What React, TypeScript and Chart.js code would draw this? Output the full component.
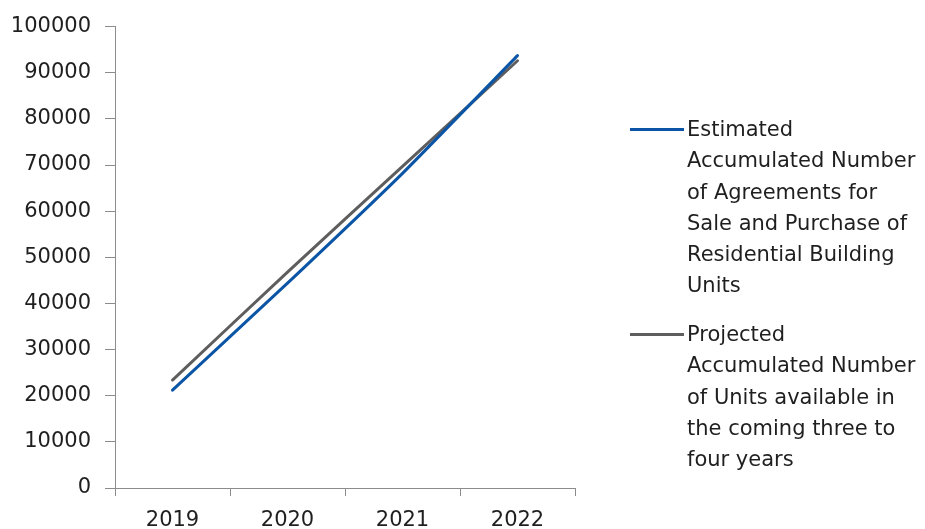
import React, { useEffect, useRef } from "react";
import { Chart, registerables } from "chart.js";

Chart.register(...registerables);

const years = ["2019", "2020", "2021", "2022"];
const estimatedAgreements = [21200, 44400, 68200, 93700];
const projectedUnits = [23400, 46800, 69700, 92600];
const estimatedLabelLines = [
  "Estimated",
  "Accumulated Number",
  "of Agreements for",
  "Sale and Purchase of",
  "Residential Building",
  "Units",
];
const projectedLabelLines = [
  "Projected",
  "Accumulated Number",
  "of Units available in",
  "the coming three to",
  "four years",
];

const BLUE = "#0b55a6";
const GRAY = "#5e5e5e";
const FONT = "'DejaVu Sans', 'Open Sans', sans-serif";
const TEXT = "#1f1f1f";
const AXIS = "#8c8c8c";

function LegendItem({ color, lines, top }: { color: string; lines: string[]; top: number }) {
  return (
    <div style={{ position: "absolute", left: 630, top, width: 295 }}>
      <div
        style={{
          position: "absolute",
          left: 0,
          top: 14,
          width: 54,
          height: 3,
          background: color,
        }}
      />
      <div
        style={{
          position: "absolute",
          left: 57,
          top: 0,
          fontFamily: FONT,
          fontSize: 21,
          lineHeight: "31.3px",
          color: TEXT,
          whiteSpace: "nowrap",
        }}
      >
        {lines.map((l, i) => (
          <div key={i}>{l}</div>
        ))}
      </div>
    </div>
  );
}

export default function App() {
  const ref = useRef<HTMLCanvasElement | null>(null);

  useEffect(() => {
    if (!ref.current) return;
    const chart = new Chart(ref.current, {
      type: "line",
      data: {
        labels: years,
        datasets: [
          {
            label: estimatedLabelLines.join(" "),
            data: estimatedAgreements,
            borderColor: BLUE,
            backgroundColor: BLUE,
            borderWidth: 3,
            pointRadius: 0,
            tension: 0.15,
            borderCapStyle: "round",
          },
          {
            label: projectedLabelLines.join(" "),
            data: projectedUnits,
            borderColor: GRAY,
            backgroundColor: GRAY,
            borderWidth: 3,
            pointRadius: 0,
            tension: 0.1,
            borderCapStyle: "round",
          },
        ],
      },
      options: {
        animation: false,
        responsive: false,
        maintainAspectRatio: false,
        layout: { padding: { top: 26, right: 350, bottom: 0, left: 0 } },
        plugins: {
          legend: { display: false },
          tooltip: { enabled: false },
        },
        scales: {
          x: {
            type: "category",
            offset: true,
            grid: {
              display: true,
              drawOnChartArea: false,
              drawTicks: true,
              tickLength: 8,
              color: AXIS,
              offset: true,
            },
            border: { display: true, color: AXIS, width: 1 },
            ticks: {
              color: TEXT,
              font: { family: FONT, size: 21 },
              padding: 12,
              maxRotation: 0,
            },
            afterFit: (s: any) => {
              s.height = 41;
            },
          },
          y: {
            min: 0,
            max: 100000,
            grid: {
              display: true,
              drawOnChartArea: false,
              drawTicks: true,
              tickLength: 10,
              color: AXIS,
            },
            border: { display: true, color: AXIS, width: 1 },
            ticks: {
              stepSize: 10000,
              color: TEXT,
              font: { family: FONT, size: 21 },
              padding: 14,
              callback: (v: any) => String(v),
            },
            afterFit: (s: any) => {
              s.width = 115;
            },
          },
        },
      },
    });
    return () => chart.destroy();
  }, []);

  return (
    <div
      style={{
        position: "fixed",
        left: 0,
        top: 0,
        width: 925,
        height: 529,
        background: "#ffffff",
        overflow: "hidden",
      }}
    >
      <canvas ref={ref} width={925} height={529} style={{ position: "absolute", left: 0, top: 0 }} />
      <LegendItem color={BLUE} lines={estimatedLabelLines} top={114} />
      <LegendItem color={GRAY} lines={projectedLabelLines} top={319} />
    </div>
  );
}
